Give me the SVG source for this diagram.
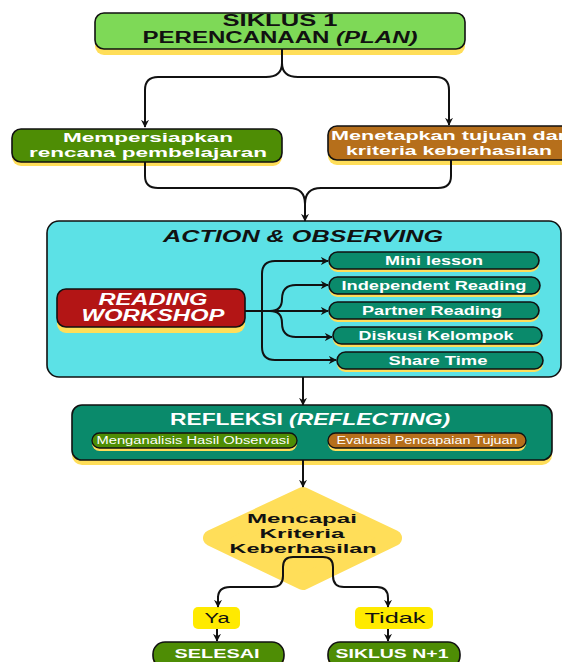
<svg xmlns="http://www.w3.org/2000/svg" width="562" height="662" viewBox="0 0 562 662">
<defs>
<marker id="ah" viewBox="0 0 10 10" refX="9" refY="5" markerWidth="8" markerHeight="8" markerUnits="userSpaceOnUse" orient="auto">
<path d="M0,0 L10,5 L0,10 L3,5 Z" fill="#111"/>
</marker>
<style>
.t{font-family:"Liberation Sans",Arial,sans-serif;font-weight:bold;text-anchor:middle}
.w{fill:#fff}
.k{fill:#111}
.sh{fill:#FFDE59}
.bx{stroke:#111;stroke-width:1.6}
.c{fill:none;stroke:#111;stroke-width:2}
.teal{fill:#0A8A6B}
.lg{fill:#4E8D05}
.br{fill:#B66F1B}
</style>
</defs>
<rect width="562" height="662" fill="#fff"/>

<g id="siklus1">
<rect class="sh" x="95" y="18" width="370" height="37" rx="9"/>
<rect class="bx" x="95" y="13" width="370" height="36" rx="9" fill="#7ED957"/>
<text class="t k" x="280" y="26" font-size="16" textLength="115" lengthAdjust="spacingAndGlyphs">SIKLUS 1</text>
<text class="t k" x="280" y="43" font-size="16" textLength="275" lengthAdjust="spacingAndGlyphs">PERENCANAAN <tspan font-style="italic">(PLAN)</tspan></text>
</g>

<g id="mempersiapkan">
<rect class="sh" x="12" y="133" width="270" height="33" rx="9"/>
<rect class="bx lg" x="12" y="129" width="270" height="33" rx="9"/>
<text class="t w" x="148" y="142" font-size="13" textLength="170" lengthAdjust="spacingAndGlyphs">Mempersiapkan</text>
<text class="t w" x="148" y="157" font-size="13" textLength="238" lengthAdjust="spacingAndGlyphs">rencana pembelajaran</text>
</g>

<g id="menetapkan">
<rect class="sh" x="328" y="130" width="245" height="35" rx="9"/>
<rect class="bx br" x="328" y="126" width="245" height="34" rx="9"/>
<text class="t w" x="451" y="140" font-size="13" textLength="240" lengthAdjust="spacingAndGlyphs">Menetapkan tujuan dan</text>
<text class="t w" x="449" y="155" font-size="13" textLength="206" lengthAdjust="spacingAndGlyphs">kriteria keberhasilan</text>
</g>

<g id="action">
<rect class="bx" x="47" y="221" width="514" height="156" rx="12" fill="#5CE1E6"/>
<text class="t k" x="303" y="242" font-size="16" font-style="italic" textLength="280" lengthAdjust="spacingAndGlyphs">ACTION &amp; OBSERVING</text>
</g>

<g id="reading-workshop">
<rect class="sh" x="57" y="294" width="188" height="39" rx="9"/>
<rect class="bx" x="57" y="289" width="188" height="38" rx="9" fill="#B31515"/>
<text class="t w" x="153" y="305" font-size="16" font-style="italic" textLength="109" lengthAdjust="spacingAndGlyphs">READING</text>
<text class="t w" x="153" y="321" font-size="16" font-style="italic" textLength="143" lengthAdjust="spacingAndGlyphs">WORKSHOP</text>
</g>

<g id="mini-lesson">
<rect class="sh" x="329" y="255" width="210" height="17" rx="8.5"/>
<rect class="bx teal" x="329" y="252" width="210" height="17" rx="8.5"/>
<text class="t w" x="434" y="265" font-size="12" textLength="98" lengthAdjust="spacingAndGlyphs">Mini lesson</text>
</g>
<g id="independent-reading">
<rect class="sh" x="329" y="280" width="211" height="17" rx="8.5"/>
<rect class="bx teal" x="329" y="277" width="211" height="17" rx="8.5"/>
<text class="t w" x="434" y="290" font-size="12" textLength="185" lengthAdjust="spacingAndGlyphs">Independent Reading</text>
</g>
<g id="partner-reading">
<rect class="sh" x="329" y="305" width="210" height="17" rx="8.5"/>
<rect class="bx teal" x="329" y="302" width="210" height="17" rx="8.5"/>
<text class="t w" x="432" y="315" font-size="12" textLength="140" lengthAdjust="spacingAndGlyphs">Partner Reading</text>
</g>
<g id="diskusi-kelompok">
<rect class="sh" x="333" y="330" width="209" height="17" rx="8.5"/>
<rect class="bx teal" x="333" y="327" width="209" height="17" rx="8.5"/>
<text class="t w" x="436" y="340" font-size="12" textLength="155" lengthAdjust="spacingAndGlyphs">Diskusi Kelompok</text>
</g>
<g id="share-time">
<rect class="sh" x="337" y="355" width="206" height="17" rx="8.5"/>
<rect class="bx teal" x="337" y="352" width="206" height="17" rx="8.5"/>
<text class="t w" x="438" y="365" font-size="12" textLength="99" lengthAdjust="spacingAndGlyphs">Share Time</text>
</g>

<g id="refleksi">
<rect class="sh" x="72" y="410" width="480" height="55" rx="10"/>
<rect class="bx teal" x="72" y="405" width="480" height="55" rx="10"/>
<text class="t w" x="310" y="425" font-size="16" textLength="280" lengthAdjust="spacingAndGlyphs">REFLEKSI <tspan font-style="italic">(REFLECTING)</tspan></text>
<rect class="sh" x="92" y="436" width="205" height="15" rx="7.5"/>
<rect class="lg" stroke="#111" stroke-width="1.3" x="92" y="433" width="205" height="15" rx="7.5"/>
<text x="193" y="444" font-family="'Liberation Sans',Arial,sans-serif" font-size="10" fill="#fff" text-anchor="middle" textLength="193" lengthAdjust="spacingAndGlyphs">Menganalisis Hasil Observasi</text>
<rect class="sh" x="328" y="436" width="198" height="15" rx="7.5"/>
<rect class="br" stroke="#111" stroke-width="1.3" x="328" y="433" width="198" height="15" rx="7.5"/>
<text x="427" y="444" font-family="'Liberation Sans',Arial,sans-serif" font-size="10" fill="#fff" text-anchor="middle" textLength="181" lengthAdjust="spacingAndGlyphs">Evaluasi Pencapaian Tujuan</text>
</g>

<g id="keputusan">
<polygon points="303,495 394,538 303,582 211,538" fill="#FFDE59" stroke="#FFDE59" stroke-width="16" stroke-linejoin="round"/>
<text class="t k" x="302" y="523" font-size="13" textLength="110" lengthAdjust="spacingAndGlyphs">Mencapai</text>
<text class="t k" x="302" y="538" font-size="13" textLength="85" lengthAdjust="spacingAndGlyphs">Kriteria</text>
<text class="t k" x="303" y="553" font-size="13" textLength="147" lengthAdjust="spacingAndGlyphs">Keberhasilan</text>
</g>

<g id="ya">
<rect x="193" y="607" width="47" height="22" rx="5" fill="#FFEA00"/>
<text x="217" y="623" font-family="'Liberation Sans',Arial,sans-serif" font-size="15.5" fill="#111" text-anchor="middle" textLength="25" lengthAdjust="spacingAndGlyphs">Ya</text>
</g>
<g id="tidak">
<rect x="355" y="607" width="78" height="22" rx="5" fill="#FFEA00"/>
<text x="395" y="623" font-family="'Liberation Sans',Arial,sans-serif" font-size="15.5" fill="#111" text-anchor="middle" textLength="61" lengthAdjust="spacingAndGlyphs">Tidak</text>
</g>

<g id="selesai">
<rect class="sh" x="153" y="645" width="131" height="26" rx="12"/>
<rect class="bx lg" x="153" y="642" width="131" height="26" rx="12"/>
<text class="t w" x="217" y="658" font-size="13.5" textLength="85" lengthAdjust="spacingAndGlyphs">SELESAI</text>
</g>
<g id="siklus-n1">
<rect class="sh" x="328" y="645" width="132" height="26" rx="12"/>
<rect class="bx lg" x="328" y="642" width="132" height="26" rx="12"/>
<text class="t w" x="392" y="658" font-size="13.5" textLength="113" lengthAdjust="spacingAndGlyphs">SIKLUS N+1</text>
</g>

<g id="connectors">
<path class="c" d="M282,49 L282,63 Q282,77 266,77 L158,77 Q145,77 145,90 L145,127" marker-end="url(#ah)"/>
<path class="c" d="M282,63 Q282,77 298,77 L436,77 Q449,77 449,90 L449,125" marker-end="url(#ah)"/>
<path class="c" d="M145,162 L145,176 Q145,188 158,188 L289,188 Q305,188 305,204 L305,221" marker-end="url(#ah)"/>
<path class="c" d="M451,160 L451,176 Q451,188 438,188 L321,188 Q305,188 305,204"/>
<path class="c" d="M245,311 L328,311" marker-end="url(#ah)"/>
<path class="c" d="M262,311 L262,274 Q262,261 275,261 L328,261" marker-end="url(#ah)"/>
<path class="c" d="M262,311 L262,347 Q262,360 275,360 L336,360" marker-end="url(#ah)"/>
<path class="c" d="M270,311 Q282,311 282,299 Q282,285 296,285 L328,285" marker-end="url(#ah)"/>
<path class="c" d="M270,311 Q282,311 282,323 Q282,337 296,337 L332,337" marker-end="url(#ah)"/>
<path class="c" d="M303,377 L303,405" marker-end="url(#ah)"/>
<path class="c" d="M303,460 L303,487" marker-end="url(#ah)"/>
<path class="c" d="M218,598 Q218,587 230,587 L272,587 Q283,587 283,576 L283,567 Q283,557 293,557 L323,557 Q333,557 333,567 L333,576 Q333,587 344,587 L377,587 Q388,587 388,598 L388,607" marker-end="url(#ah)"/>
<path class="c" d="M218,596 L218,607" marker-end="url(#ah)"/>
<path class="c" d="M217,629 L217,641" marker-end="url(#ah)"/>
<path class="c" d="M388,629 L388,641" marker-end="url(#ah)"/>
</g>
</svg>
